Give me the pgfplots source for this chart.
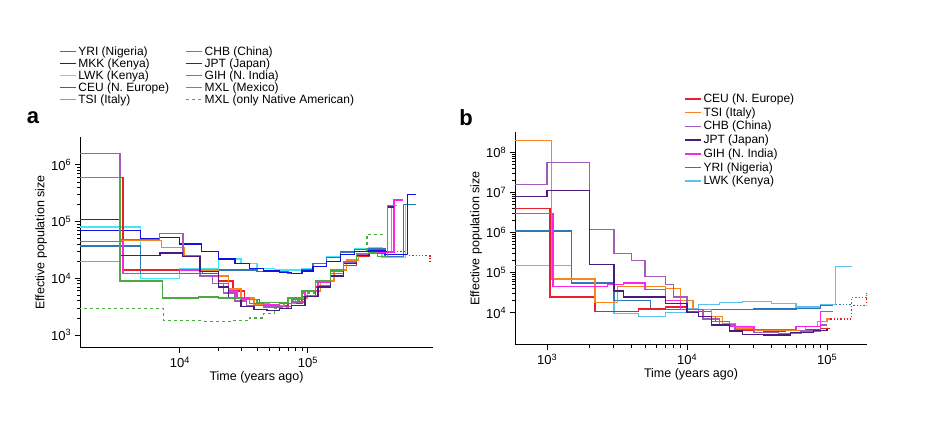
\documentclass[border=0pt]{standalone}
\usepackage{pgfplots}
\pgfplotsset{compat=1.18}
\usepackage{fontspec}
\setmainfont{Liberation Sans}
\definecolor{cYRI}{HTML}{2F78B8}
\definecolor{cMKK}{HTML}{1212E0}
\definecolor{cLWK}{HTML}{44E8F5}
\definecolor{cLWKb}{HTML}{5CC0F0}
\definecolor{cCEU}{HTML}{E8202A}
\definecolor{cTSI}{HTML}{F7861E}
\definecolor{cCHB}{HTML}{A05CB8}
\definecolor{cJPT}{HTML}{4A1A7C}
\definecolor{cGIH}{HTML}{FF22E8}
\definecolor{cMXL}{HTML}{4BAA3D}
\pgfplotsset{
 every axis/.append style={scale only axis, xmode=log, ymode=log, axis lines*=left,
  tick align=outside, line width=1pt, font=\fontsize{13}{15}\selectfont,
  every tick/.style={black, line width=0.8pt}, major tick length=5pt, minor tick length=3pt,
  ylabel style={font=\fontsize{12.5}{14}\selectfont}, xlabel style={font=\fontsize{12.5}{14}\selectfont}},
 s/.style={const plot, line width=1.3pt, forget plot},
 lg/.style={legend image code/.code={\draw[##1, line width=1.6pt] (0pt,0pt) -- (16pt,0pt);}},
}
\begin{document}
\begin{tikzpicture}
\path (0pt,0pt) rectangle (945pt,442pt);
\node[font=\fontsize{22}{24}\selectfont\bfseries] at (33pt,324pt) {a};
\node[font=\fontsize{22}{24}\selectfont\bfseries] at (466pt,324pt) {b};
\begin{axis}[at={(80pt,94pt)}, anchor=south west, width=353pt, height=211pt,
 xmin=1660, xmax=950000, ymin=590, ymax=3.1e6,
 xtick={1e4,1e5}, xticklabels={10\textsuperscript{4},10\textsuperscript{5}},
 ytick={1e3,1e4,1e5,1e6}, yticklabels={10\textsuperscript{3},10\textsuperscript{4},10\textsuperscript{5},10\textsuperscript{6}},
 xlabel={Time (years ago)}, ylabel={Effective population size},
 xlabel style={yshift=3pt}, ylabel style={yshift=-3pt},
 legend columns=2, legend cell align=left,
 legend style={at={(-0.07,1.45)}, anchor=north west, draw=none, fill=none, font=\fontsize{12}{13}\selectfont, row sep=-2.2pt, /tikz/every even column/.append style={column sep=14pt}}]
\addplot[s, cLWK] coordinates {(1600,8e4)(4900,1e4)(10000,1.5e4)(20000,2.2e4)(30000,1.8e4)(40000,1.5e4)(55000,1.4e4)(70000,1.4e4)(90000,1.5e4)(110000,1.8e4)(140000,2.4e4)(180000,3e4)(230000,3.3e4)(300000,3.4e4)(380000,2.3e4)(580000,2e5)(700000,2e5)};
\addplot[s, cYRI] coordinates {(1600,3.7e4)(4900,1.2e4)(15000,1.4e4)(40000,1.3e4)(70000,1.2e4)(90000,1.4e4)(110000,1.8e4)(140000,2.3e4)(180000,2.9e4)(230000,3.2e4)(300000,3.3e4)(400000,2.4e4)(560000,2e5)(700000,2e5)};
\addplot[s, cMKK] coordinates {(1600,7e4)(4900,5e4)(6900,5.3e4)(10000,4e4)(14700,3e4)(20000,2.2e4)(27000,1.8e4)(35000,1.5e4)(45000,1.35e4)(60000,1.25e4)(75000,1.2e4)(90000,1.35e4)(110000,1.6e4)(140000,2e4)(180000,2.6e4)(230000,3e4)(300000,3.1e4)(400000,2.6e4)(600000,3e5)(700000,3e5)};
\addplot[s, cCEU, dotted] coordinates {(300000,28000)(400000,30000)(600000,25000)(900000,18000)};
\addplot[s, cMXL, dashed] coordinates {(1600,2900)(7500,1800)(15000,1750)(25000,1800)(35000,2000)(45000,2400)(55000,3000)(70000,4000)(90000,5500)(115000,8500)(150000,13000)(190000,19000)(240000,25000)(290000,60000)(400000,60000)};
\addplot[s, cCEU] coordinates {(1600,6e5)(3600,1.4e4)(14400,1.2e4)(20000,9000)(26000,6000)(32000,4200)(42000,3400)(55000,3300)(70000,3600)(90000,4800)(115000,7000)(150000,11000)(190000,17000)(240000,24000)(300000,28000)(400000,28000)};
\addplot[s, cTSI] coordinates {(1600,2e4)(3400,4.6e4)(7200,3.5e4)(10800,2.5e4)(14400,1.4e4)(20000,1.1e4)(24000,6500)(30000,4500)(38000,3500)(50000,3300)(65000,3600)(80000,4500)(100000,6000)(125000,9000)(160000,14000)(200000,21000)(250000,27000)(320000,29000)(450000,1.9e5)(500000,1.9e5)};
\addplot[s, cGIH] coordinates {(1600,4.5e4)(3600,1.2e4)(10000,1.4e4)(14400,1.1e4)(20000,8000)(24000,6000)(28000,4500)(35000,3600)(45000,3400)(60000,3600)(75000,4200)(95000,6000)(120000,8500)(150000,13000)(190000,20000)(240000,26000)(300000,29000)(470000,2.4e5)(550000,2.4e5)};
\addplot[s, cCHB] coordinates {(1600,1.6e6)(3400,4.8e4)(6900,6.2e4)(10600,2.5e4)(14400,1.1e4)(18000,8000)(22000,5500)(27000,4000)(33000,3300)(45000,3100)(60000,3200)(75000,3800)(95000,5000)(120000,7500)(150000,12000)(190000,19000)(240000,26000)(300000,30000)(420000,1.9e5)(480000,1.9e5)};
\addplot[s, cJPT] coordinates {(1600,1.1e5)(3400,2.5e4)(7000,2.8e4)(10500,2.4e4)(14400,1.3e4)(20000,7000)(24000,4500)(30000,3200)(38000,2800)(48000,2700)(60000,2900)(75000,3300)(95000,4800)(120000,7000)(150000,11000)(190000,18000)(240000,25000)(300000,30000)(420000,1.8e5)(470000,1.8e5)};
\addplot[s, cMXL] coordinates {(1600,6e5)(3400,9000)(7300,4500)(14000,4700)(20000,4500)(30000,4200)(40000,3700)(55000,3700)(70000,4500)(90000,6000)(115000,9000)(150000,14000)(190000,20000)(240000,27000)(300000,28000)(350000,24000)(420000,1.9e5)(480000,1.9e5)};
\addlegendimage{lg, cYRI}\addlegendentry{YRI (Nigeria)}
\addlegendimage{lg, cCHB}\addlegendentry{CHB (China)}
\addlegendimage{lg, cMKK}\addlegendentry{MKK (Kenya)}
\addlegendimage{lg, cJPT}\addlegendentry{JPT (Japan)}
\addlegendimage{lg, cLWK}\addlegendentry{LWK (Kenya)}
\addlegendimage{lg, cGIH}\addlegendentry{GIH (N. India)}
\addlegendimage{lg, cCEU}\addlegendentry{CEU (N. Europe)}
\addlegendimage{lg, cMXL}\addlegendentry{MXL (Mexico)}
\addlegendimage{lg, cTSI}\addlegendentry{TSI (Italy)}
\addlegendimage{lg, cMXL, dashed}\addlegendentry{MXL (only Native American)}
\end{axis}
\begin{axis}[at={(515pt,97pt)}, anchor=south west, width=352pt, height=213pt,
 xmin=590, xmax=193000, ymin=1580, ymax=3.2e8,
 xtick={1e3,1e4,1e5}, xticklabels={10\textsuperscript{3},10\textsuperscript{4},10\textsuperscript{5}},
 ytick={1e4,1e5,1e6,1e7,1e8}, yticklabels={10\textsuperscript{4},10\textsuperscript{5},10\textsuperscript{6},10\textsuperscript{7},10\textsuperscript{8}},
 xlabel={Time (years ago)}, ylabel={Effective population size},
 xlabel style={yshift=3pt}, ylabel style={yshift=-3pt},
 legend cell align=left,
 legend style={at={(0.47,1.2)}, anchor=north west, draw=none, fill=none, font=\fontsize{12}{13}\selectfont, row sep=-0.5pt}]
\addplot[s, cYRI, dotted] coordinates {(110000,1.6e4)(150000,2.4e4)(193000,3.2e4)};
\addplot[s, cCEU, dotted] coordinates {(100000,7000)(150000,1.5e4)(193000,2.5e4)};
\addplot[s, cLWKb] coordinates {(590,1.5e5)(1500,5.5e4)(3000,9500)(4500,8000)(7000,1e4)(10000,1.3e4)(12000,1.6e4)(17000,1.8e4)(25000,1.9e4)(40000,1.7e4)(60000,1.4e4)(90000,1.6e4)(115000,1.4e5)(150000,1.4e5)};
\addplot[s, cYRI] coordinates {(590,1.1e6)(1500,5.5e4)(3000,2e4)(5500,1.2e4)(12000,1.1e4)(15000,1.2e4)(30000,1.25e4)(60000,1.3e4)(90000,1.5e4)(110000,1.6e4)};
\addplot[s, cCEU] coordinates {(590,4e6)(1050,2.5e4)(2200,1.1e4)(4500,1.25e4)(7000,1.4e4)(10000,1.1e4)(13000,8000)(16000,6000)(20000,4500)(25000,3600)(35000,3400)(50000,3600)(70000,3800)(90000,4000)(105000,4000)};
\addplot[s, cTSI] coordinates {(590,2e8)(1080,7e4)(2200,1.8e4)(3200,4.5e4)(7000,4e4)(9000,2e4)(11000,1.2e4)(15000,8000)(18000,5500)(22000,4200)(30000,3600)(50000,3700)(70000,4500)(85000,6000)(100000,7000)(105000,7000)};
\addplot[s, cCHB] coordinates {(590,1.6e7)(1000,5.5e7)(2000,1.2e6)(3000,3e5)(4000,2e5)(5000,8e4)(7000,5e4)(8000,2.5e4)(10000,1.2e4)(13000,7000)(17000,5000)(22000,3800)(30000,3200)(45000,3000)(65000,3500)(90000,5000)(100000,5000)};
\addplot[s, cGIH] coordinates {(590,3e6)(1100,4.5e4)(2700,5e4)(3500,5.5e4)(5000,3.8e4)(7000,2e4)(9000,1.2e4)(12000,8000)(15000,6000)(20000,4500)(30000,3800)(45000,3800)(60000,4500)(90000,1.1e4)(110000,1.1e4)};
\addplot[s, cJPT] coordinates {(590,8e6)(1000,1.1e7)(2000,1.6e5)(3000,3.5e4)(3500,2.5e4)(7000,1.7e4)(10000,1e4)(12000,8000)(15000,5000)(20000,3500)(25000,2900)(35000,2800)(55000,3200)(80000,3600)(100000,4000)};
\addlegendimage{lg, cCEU}\addlegendentry{CEU (N. Europe)}
\addlegendimage{lg, cTSI}\addlegendentry{TSI (Italy)}
\addlegendimage{lg, cCHB}\addlegendentry{CHB (China)}
\addlegendimage{lg, cJPT}\addlegendentry{JPT (Japan)}
\addlegendimage{lg, cGIH}\addlegendentry{GIH (N. India)}
\addlegendimage{lg, cYRI}\addlegendentry{YRI (Nigeria)}
\addlegendimage{lg, cLWKb}\addlegendentry{LWK (Kenya)}
\end{axis}
\end{tikzpicture}
\end{document}
